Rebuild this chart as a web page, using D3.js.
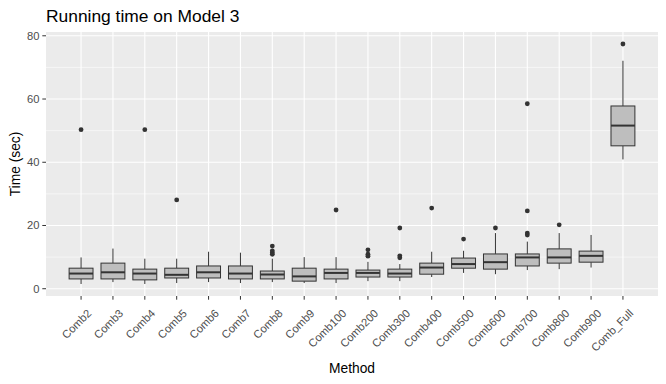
<!DOCTYPE html>
<html lang="en">
<head>
<meta charset="UTF-8">
<title>Running time on Model 3</title>
<script src="https://cdn.jsdelivr.net/npm/d3@7"></script>
<style>
  body { margin: 0; background: #fff; }
  text { font-family: 'Liberation Sans', Arial, sans-serif; }
</style>
</head>
<body>
<script>
// box stats: [low whisker, q1, median, q3, high whisker]
const methods = ["Comb2","Comb3","Comb4","Comb5","Comb6","Comb7","Comb8","Comb9","Comb100",
  "Comb200","Comb300","Comb400","Comb500","Comb600","Comb700","Comb800","Comb900","Comb_Full"];
const lowW   = [1.5, 2.1, 1.5, 1.8, 2.1, 1.8, 2.1, 1.8, 1.8, 2.4, 2.4, 3.7, 5.0, 4.6, 5.9, 6.2, 6.7, 40.9];
const q1     = [3.1, 3.1, 2.8, 3.4, 3.4, 3.1, 3.1, 2.4, 3.1, 3.7, 3.7, 4.6, 6.5, 6.2, 7.2, 8.1, 8.4, 45.2];
const median = [4.8, 5.2, 4.8, 4.4, 5.2, 4.8, 4.5, 3.9, 5.0, 5.0, 4.8, 6.7, 7.8, 8.4, 9.9, 9.9, 10.4, 51.6];
const q3     = [6.5, 8.1, 6.2, 6.5, 7.2, 7.2, 5.6, 6.5, 6.2, 5.9, 6.2, 8.1, 9.7, 11.0, 11.0, 12.6, 11.9, 57.8];
const highW  = [9.9, 12.7, 9.5, 9.5, 11.7, 11.4, 9.5, 10.0, 10.0, 8.5, 7.8, 11.7, 12.0, 17.6, 14.9, 17.6, 17.0, 72.1];
const outliers = [[50.3], [], [50.3], [28.1], [], [], [13.5, 12.0, 11.4, 10.9], [], [24.9],
  [12.3, 10.9, 10.3], [19.2, 10.4, 9.8], [25.5], [15.7], [19.2], [58.5, 24.6, 17.6, 17.0], [20.2], [], [77.4]];
const yTicks = [0, 20, 40, 60, 80];
const yMinor = [10, 30, 50, 70];

const W = 666, H = 384;
const margin = {top: 32, right: 8, bottom: 88, left: 46};
const pw = W - margin.left - margin.right, ph = H - margin.top - margin.bottom;

const svg = d3.select("body").append("svg").attr("width", W).attr("height", H);
const g = svg.append("g").attr("transform", `translate(${margin.left},${margin.top})`);

const x = d3.scaleBand().domain(methods).range([0, pw]).paddingOuter(0.6).paddingInner(0);
const y = d3.scaleLinear().domain([-2.3, 81.2]).range([ph, 0]);
const bw = x.bandwidth() * 0.75;
const cx = m => x(m) + x.bandwidth() / 2;

g.append("rect").attr("width", pw).attr("height", ph).attr("fill", "#EBEBEB");

g.selectAll(".minor").data(yMinor).join("line")
  .attr("x1", 0).attr("x2", pw).attr("y1", d => y(d)).attr("y2", d => y(d))
  .attr("stroke", "#fff").attr("stroke-width", 0.55);
g.selectAll(".major").data(yTicks).join("line")
  .attr("x1", 0).attr("x2", pw).attr("y1", d => y(d)).attr("y2", d => y(d))
  .attr("stroke", "#fff").attr("stroke-width", 1.1);
g.selectAll(".vgrid").data(methods).join("line")
  .attr("x1", cx).attr("x2", cx).attr("y1", 0).attr("y2", ph)
  .attr("stroke", "#fff").attr("stroke-width", 1.1);

const rows = methods.map((m, i) => ({m, lo: lowW[i], q1: q1[i], md: median[i], q3: q3[i], hi: highW[i], out: outliers[i]}));
const box = g.selectAll(".box").data(rows).join("g");
box.append("line")
  .attr("x1", d => cx(d.m)).attr("x2", d => cx(d.m))
  .attr("y1", d => y(d.hi)).attr("y2", d => y(d.q3))
  .attr("stroke", "#333").attr("stroke-width", 1);
box.append("line")
  .attr("x1", d => cx(d.m)).attr("x2", d => cx(d.m))
  .attr("y1", d => y(d.q1)).attr("y2", d => y(d.lo))
  .attr("stroke", "#333").attr("stroke-width", 1);
box.append("rect")
  .attr("x", d => cx(d.m) - bw / 2).attr("width", bw)
  .attr("y", d => y(d.q3)).attr("height", d => y(d.q1) - y(d.q3))
  .attr("fill", "#BEBEBE").attr("stroke", "#333").attr("stroke-width", 1);
box.append("line")
  .attr("x1", d => cx(d.m) - bw / 2).attr("x2", d => cx(d.m) + bw / 2)
  .attr("y1", d => y(d.md)).attr("y2", d => y(d.md))
  .attr("stroke", "#333").attr("stroke-width", 2);
box.selectAll("circle").data(d => d.out.map(v => ({m: d.m, v}))).join("circle")
  .attr("cx", d => cx(d.m)).attr("cy", d => y(d.v)).attr("r", 2.4).attr("fill", "#333");

// y axis
const ya = g.append("g");
ya.selectAll("line").data(yTicks).join("line")
  .attr("x1", -3.7).attr("x2", 0).attr("y1", d => y(d)).attr("y2", d => y(d))
  .attr("stroke", "#333").attr("stroke-width", 1);
ya.selectAll("text").data(yTicks).join("text")
  .attr("x", -6.5).attr("y", d => y(d)).attr("dy", "0.35em")
  .attr("text-anchor", "end").attr("font-size", 11.2).attr("fill", "#4D4D4D")
  .text(d => d);

// x axis
const xa = g.append("g").attr("transform", `translate(0,${ph})`);
xa.selectAll("line").data(methods).join("line")
  .attr("x1", cx).attr("x2", cx).attr("y1", 0).attr("y2", 3.7)
  .attr("stroke", "#333").attr("stroke-width", 1);
xa.selectAll("text").data(methods).join("text")
  .attr("transform", d => `translate(${cx(d) + 5.4},${12.4}) rotate(-45)`)
  .attr("text-anchor", "end").attr("dy", "0.71em")
  .attr("font-size", 11.2).attr("fill", "#4D4D4D")
  .text(d => d);

svg.append("text").attr("x", margin.left).attr("y", 22)
  .attr("font-size", 17.4).attr("fill", "#000").text("Running time on Model 3");
svg.append("text").attr("x", margin.left + pw / 2).attr("y", 373)
  .attr("text-anchor", "middle").attr("font-size", 13.8).attr("fill", "#000").text("Method");
svg.append("text").attr("transform", `translate(20,${margin.top + ph / 2}) rotate(-90)`)
  .attr("text-anchor", "middle").attr("font-size", 13.8).attr("fill", "#000").text("Time (sec)");
</script>
</body>
</html>
